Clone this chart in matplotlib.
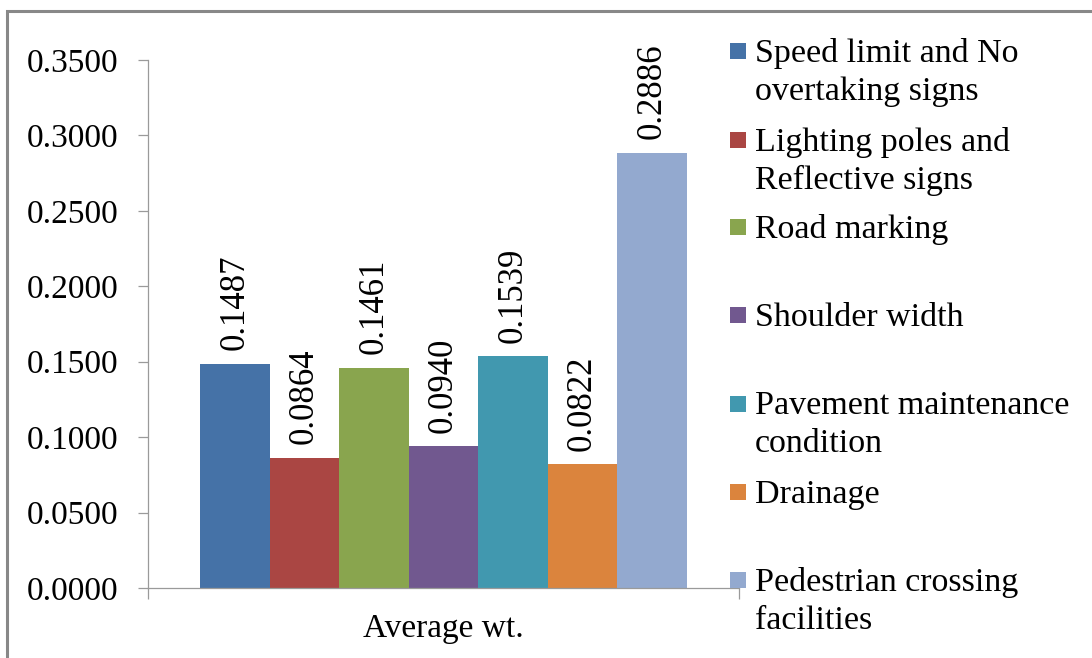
import matplotlib
matplotlib.use("Agg")
import matplotlib.pyplot as plt
from matplotlib.patches import Rectangle

categories = ["Speed limit and No\novertaking signs",
              "Lighting poles and\nReflective signs",
              "Road marking",
              "Shoulder width",
              "Pavement maintenance\ncondition",
              "Drainage",
              "Pedestrian crossing\nfacilities"]
values = [0.1487, 0.0864, 0.1461, 0.0940, 0.1539, 0.0822, 0.2886]
colors = ["#4572A7", "#AA4643", "#89A54E", "#71588F", "#4198AF", "#DB843D", "#93A9CF"]
group_label = "Average wt."
yticks = [0.0, 0.05, 0.10, 0.15, 0.20, 0.25, 0.30, 0.35]

plt.rcParams["font.family"] = ["Liberation Serif", "DejaVu Serif"]
FS = 24
FS_LEG = 24.5
FS_LBL = 25
AXIS_GRAY = "#9a9a9a"

W, H = 1092, 658
fig = plt.figure(figsize=(W / 100, H / 100), dpi=100)
fig.patch.set_facecolor("white")

# outer chart-area frame
fig.add_artist(Rectangle((7 / W, -0.1), 1.2, (H - 11) / H + 0.1,
                         transform=fig.transFigure, fill=False,
                         edgecolor="#888888", linewidth=2.2))

ax = fig.add_axes([148 / W, (H - 588) / H, 591 / W, 528 / H])

n = len(values)
bw = 1.0 / (n + 1.5)
for i, (v, c) in enumerate(zip(values, colors)):
    x = (i - (n - 1) / 2) * bw
    ax.bar(x, v, width=bw, color=c, edgecolor="none", zorder=2)
    ax.annotate(f"{v:.4f}", (x, v), xytext=(0, 9.5), textcoords="offset points",
                rotation=90, ha="center", va="bottom", fontsize=FS_LBL)

ax.set_xlim(-0.5, 0.5)
ax.set_ylim(0, 0.35)
ax.set_yticks(yticks)
ax.set_yticklabels([f"{t:.4f}" for t in yticks], fontsize=FS)
ax.set_xticks([-0.5, 0.5])
ax.set_xticklabels(["", ""])
ax.set_xticks([0], minor=True)
ax.set_xticklabels([group_label], minor=True, fontsize=FS)
ax.tick_params(axis="x", which="minor", length=0, pad=18)
ax.tick_params(axis="x", which="major", length=8, width=0.9, color=AXIS_GRAY, direction="out")
ax.tick_params(axis="y", length=7.5, width=0.9, color=AXIS_GRAY, direction="out", pad=14)

for s in ["top", "right"]:
    ax.spines[s].set_visible(False)
for s in ["left", "bottom"]:
    ax.spines[s].set_color(AXIS_GRAY)
    ax.spines[s].set_linewidth(0.9)

# legend entries, top-aligned in equal slots
slot_y = [51, 140, 227, 315, 404, 492, 580]
for label, c, yc in zip(categories, colors, slot_y):
    fig.add_artist(Rectangle((730 / W, (H - yc - 8) / H), 16 / W, 16 / H,
                             transform=fig.transFigure, facecolor=c,
                             edgecolor="none", zorder=5))
    fig.text(755 / W, (H - yc + 13) / H, label, fontsize=FS_LEG, va="top", ha="left",
             linespacing=1.3)

fig.savefig("out.png", dpi=100, facecolor="white")
